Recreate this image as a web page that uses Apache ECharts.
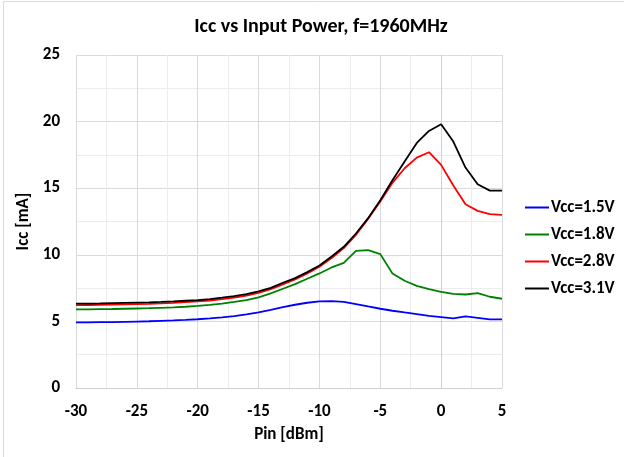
<!DOCTYPE html>
<html><head><meta charset="utf-8">
<script src="https://cdn.jsdelivr.net/npm/echarts@6/dist/echarts.min.js"></script>
<style>html,body{margin:0;padding:0;background:#fff}#c{width:624px;height:457px}</style>
</head><body><div id="c"></div>
<script>
const pin = [-30,-29,-28,-27,-26,-25,-24,-23,-22,-21,-20,-19,-18,-17,-16,-15,-14,-13,-12,-11,-10,-9,-8,-7,-6,-5,-4,-3,-2,-1,0,1,2,3,4,5];
const vcc15 = [4.92,4.93,4.94,4.95,4.97,4.99,5.01,5.04,5.07,5.11,5.16,5.22,5.30,5.40,5.52,5.68,5.87,6.07,6.25,6.40,6.50,6.52,6.47,6.30,6.12,5.95,5.80,5.67,5.55,5.42,5.32,5.22,5.37,5.27,5.15,5.15];
const vcc18 = [5.90,5.91,5.92,5.93,5.95,5.97,5.99,6.02,6.05,6.10,6.16,6.24,6.34,6.46,6.60,6.80,7.10,7.45,7.80,8.20,8.60,9.05,9.40,10.30,10.35,10.05,8.60,8.05,7.67,7.42,7.22,7.07,7.02,7.12,6.85,6.70];
const vcc28 = [6.22,6.23,6.24,6.26,6.28,6.30,6.32,6.35,6.39,6.44,6.50,6.57,6.67,6.79,6.94,7.14,7.42,7.78,8.15,8.60,9.10,9.75,10.50,11.50,12.70,14.00,15.40,16.50,17.30,17.70,16.75,15.20,13.80,13.30,13.05,13.00];
const vcc31 = [6.33,6.34,6.35,6.37,6.39,6.41,6.43,6.46,6.50,6.55,6.60,6.68,6.78,6.90,7.05,7.25,7.52,7.90,8.25,8.70,9.20,9.87,10.60,11.60,12.75,14.10,15.60,17.00,18.40,19.30,19.80,18.50,16.55,15.30,14.82,14.82];
const seriesNames = ['Vcc=1.5V','Vcc=1.8V','Vcc=2.8V','Vcc=3.1V'];
const seriesData = [vcc15, vcc18, vcc28, vcc31];
const colors = ['#0000ff','#008000','#ff0000','#000000'];

const font = 'Carlito, "Open Sans", "Liberation Sans", sans-serif';
const chart = echarts.init(document.getElementById('c'), null, {renderer:'canvas'});
chart.setOption({
  animation:false,
  backgroundColor:'#fff',
  title:{text:'Icc vs Input Power, f=1960MHz', left:316, top:12, textAlign:'center',
    textStyle:{fontFamily:font, fontSize:20, fontWeight:'bold', color:'#000'}},
  graphic:[{type:'rect', shape:{x:3.5,y:1.5,width:700,height:700}, style:{fill:'none', stroke:'#d9d9d9', lineWidth:1}, z:-1}],
  legend:{orient:'vertical', left:525, top:199, padding:0, itemGap:10, itemWidth:24, itemHeight:2, icon:'rect',
    textStyle:{fontFamily:font, fontSize:17, fontWeight:'bold', color:'#000', padding:[0,0,0,-3]},
    data:seriesNames},
  grid:{left:76, right:122, top:55, bottom:69},
  xAxis:{type:'value', min:-30, max:5, interval:5, name:'Pin [dBm]', nameLocation:'middle', nameGap:38,
    nameTextStyle:{fontFamily:font, fontSize:17, fontWeight:'bold', color:'#000'},
    axisLine:{show:true, lineStyle:{color:'#d0d0d0'}}, axisTick:{show:false},
    axisLabel:{fontFamily:font, fontSize:17, fontWeight:'bold', color:'#000', margin:15},
    splitLine:{show:true, lineStyle:{color:'#dadada'}},
    minorTick:{show:false, splitNumber:2}, minorSplitLine:{show:true, lineStyle:{color:'#ececec'}}},
  yAxis:{type:'value', min:0, max:25, interval:5, name:'Icc [mA]', nameLocation:'middle', nameGap:34,
    nameTextStyle:{fontFamily:font, fontSize:17, fontWeight:'bold', color:'#000'},
    axisLine:{show:true, lineStyle:{color:'#d0d0d0'}}, axisTick:{show:false},
    axisLabel:{fontFamily:font, fontSize:17, fontWeight:'bold', color:'#000', margin:16},
    splitLine:{show:true, lineStyle:{color:'#dadada'}},
    minorTick:{show:false, splitNumber:2}, minorSplitLine:{show:true, lineStyle:{color:'#ececec'}}},
  series: seriesNames.map((n,i)=>({name:n, type:'line', showSymbol:false, symbol:'none',
    data: pin.map((p,j)=>[p, seriesData[i][j]]), lineStyle:{color:colors[i], width:1.8}, itemStyle:{color:colors[i]}}))
});
</script></body></html>
